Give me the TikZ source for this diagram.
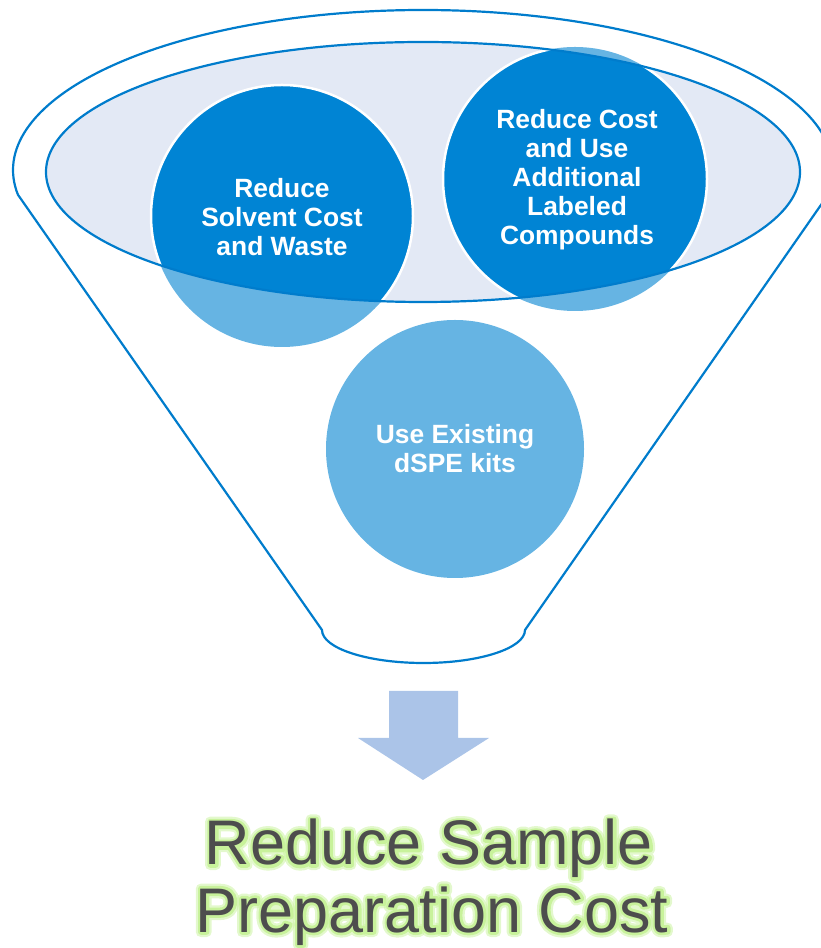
\documentclass[tikz,border=0pt]{standalone}
\usepackage{fontspec}
\setmainfont{Liberation Sans}
\definecolor{funnelline}{RGB}{0,124,204}
\definecolor{rimfill}{RGB}{227,233,245}
\definecolor{darkbub}{RGB}{0,132,212}
\definecolor{lightbub}{RGB}{102,180,227}
\definecolor{arrowc}{RGB}{171,196,232}
\definecolor{glowc}{RGB}{200,242,155}
\definecolor{headc}{RGB}{77,77,77}
\newcommand\strokedtext[2]{\special{pdf:literal direct 1 Tr #1 w 1 j 1 J}#2\special{pdf:literal direct 0 Tr}}
\begin{document}
\begin{tikzpicture}[x=1pt,y=1pt,
  bubble/.style={circle, fill=lightbub, draw=none, inner sep=0pt, outer sep=0pt},
  ring/.style={draw=white, line width=2.5pt},
  bubtext/.style={text=white, font=\bfseries\fontsize{26.4}{29}\selectfont, align=center, inner sep=0pt},
  outline/.style={draw=funnelline, line width=2.2pt},
  headtext/.style={font=\fontsize{63}{67}\selectfont, inner sep=0pt, anchor=base}]
\useasboundingbox (0,0) rectangle (821,948);
\clip (0,0) rectangle (821,948);
% funnel outer outline
\draw[outline] (423,778) ++(-8.9:410 and 160) coordinate (rc)
  arc[start angle=-8.9, end angle=188.9, x radius=410, y radius=160] coordinate (lc)
  -- (322,318) coordinate (bl)
  arc[start angle=180, end angle=360, x radius=101.5, y radius=33] coordinate (br)
  -- cycle;
% inner rim fill
\path[fill=rimfill] (423,776) ellipse[x radius=377, y radius=130];
% bubbles
\node[bubble, minimum size=262pt] (c1) at (282,732) {};
\node[bubble, minimum size=264pt] (c2) at (575,769) {};
\node[bubble, minimum size=258pt] (c3) at (455,499) {};
\begin{scope}
  \clip (423,776) ellipse[x radius=377, y radius=130];
  \fill[darkbub] (c1.center) circle[radius=131];
  \fill[darkbub] (c2.center) circle[radius=132];
  \draw[ring] (c1.center) circle[radius=131];
  \draw[ring] (c2.center) circle[radius=132];
\end{scope}
\draw[outline] (423,776) ellipse[x radius=377, y radius=130];
% bubble texts
\node[bubtext] (t1) at (282,731) {Reduce\\Solvent Cost\\and Waste};
\node[bubtext] (t2) at (577,768) {Reduce Cost\\and Use\\Additional\\Labeled\\Compounds};
\node[bubtext] (t3) at (455,499) {Use Existing\\dSPE kits};
% arrow
\path[fill=arrowc] (389,257) -- (458,257) -- (458,210) -- (489,210) -- (423,168) -- (358,210) -- (389,210) -- cycle;
% heading with glow
\begin{scope}[opacity=0.5]
  \node[headtext, text=glowc] (ga) at (429,83) {\strokedtext{10}{Reduce Sample}};
  \node[headtext, text=glowc] (gb) at (432,16) {\strokedtext{10}{Preparation Cost}};
\end{scope}
\node[headtext, text=glowc] (gc) at (429,83) {\strokedtext{5.5}{Reduce Sample}};
\node[headtext, text=glowc] (gd) at (432,16) {\strokedtext{5.5}{Preparation Cost}};
\node[headtext, text=headc] (h1) at (429,83) {Reduce Sample};
\node[headtext, text=headc] (h2) at (432,16) {Preparation Cost};
\end{tikzpicture}
\end{document}
